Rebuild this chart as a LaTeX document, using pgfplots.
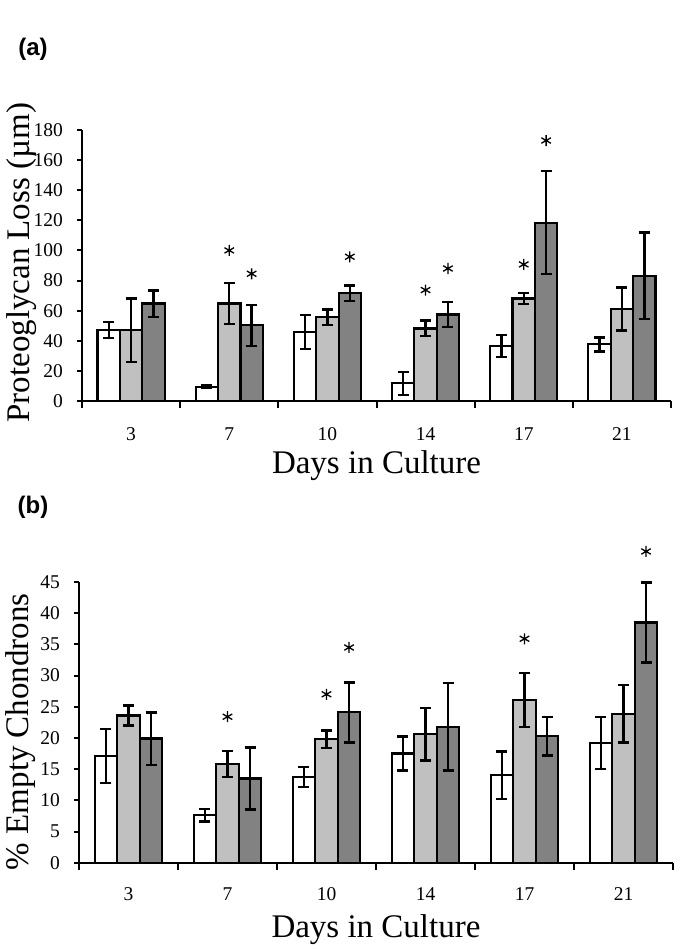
\documentclass[border=0pt]{standalone}
\usepackage{fontspec}
\setmainfont{Liberation Serif}
\newfontfamily\panelfont{Liberation Sans}
\usepackage{pgfplots}
\usepackage{pgfplotstable}
\pgfplotsset{compat=1.18}

\definecolor{lightbar}{HTML}{C0C0C0}
\definecolor{darkbar}{HTML}{828282}

\pgfplotstableread{
x  w    we   l    le   d     de
0  47.0 5.3  47.0 21.0 64.7  8.8
1  9.5  1.0  64.7 13.5 50.3  13.6
2  45.8 11.3 55.6 5.2  71.5  5.2
3  11.7 7.7  48.2 5.2  57.5  8.3
4  36.5 7.4  68.1 3.5  118.4 34.2
5  37.6 4.6  61.1 14.4 83.2  28.8
}\dataA

\pgfplotstableread{
x  w    we   l    le   d     de
0  17.1 4.3  23.6 1.6  19.9  4.2
1  7.6  1.0  15.8 2.1  13.5  5.0
2  13.7 1.6  19.8 1.4  24.1  4.8
3  17.5 2.7  20.6 4.2  21.8  7.0
4  14.0 3.8  26.1 4.3  20.3  3.1
5  19.2 4.2  23.9 4.6  38.5  6.4
}\dataB

\pgfplotsset{
  mybars/.style={
    scale only axis,
    clip=false,
    xmin=-0.5, xmax=5.5,
    ymin=0,
    axis x line*=bottom,
    axis y line*=left,
    axis line style={line width=2.2pt,-},
    xtick={0,...,5},
    xticklabels={3,7,10,14,17,21},
    major x tick style={draw=none},
    minor xtick={-0.5,0.5,1.5,2.5,3.5,4.5,5.5},
    minor x tick style={line width=2pt,black},
    minor tick length=7pt,
    major tick length=5pt,
    tick align=outside,
    ytick style={line width=2pt,black},
    ticklabel style={font=\fontsize{19.5}{22}\selectfont},
    /pgf/number format/assume math mode=true,
    yticklabel style={anchor=east,inner sep=0pt,xshift=-14pt},
    xticklabel style={anchor=base,inner sep=0pt},
    label style={font=\fontsize{33}{36}\selectfont},
    xlabel style={at={(axis description cs:0.5,0)},anchor=base,inner sep=0pt},
    ylabel style={anchor=center,inner sep=0pt},
  },
  anybar/.style={ybar,bar width=0.228,bar shift=0,draw=black,line width=2.2pt,
    error bars/.cd,y dir=both,y explicit,error bar style={line width=2.4pt,black},
    error mark options={rotate=90,mark size=5.5pt,line width=2.4pt,black}},
  stars/.style={only marks,mark=asterisk,mark size=5.5pt,mark options={line width=1.3pt,black}},
}

\begin{document}
\begin{tikzpicture}
\path (0pt,0pt) rectangle (685pt,949pt);
\node[font=\panelfont\bfseries\fontsize{24}{24}\selectfont] at (33pt,900pt) {(a)};
\node[font=\panelfont\bfseries\fontsize{24}{24}\selectfont] at (33pt,441.5pt) {(b)};

\begin{axis}[mybars,
  at={(82pt,548pt)}, anchor=south west,
  width=589pt, height=271pt,
  ymax=180, ytick={0,20,...,180},
  xticklabel style={yshift=-35pt},
  xlabel={Days in Culture},
  xlabel style={yshift=-73pt},
  ylabel={Proteoglycan Loss (µm)},
  ylabel style={at={(axis description cs:-0.1024,0.51)}},
]
\addplot[fill=white,anybar] table[x expr=\thisrow{x}-0.228,y=w,y error=we] {\dataA};
\addplot[fill=lightbar,anybar] table[x expr=\thisrow{x},y=l,y error=le] {\dataA};
\addplot[fill=darkbar,anybar] table[x expr=\thisrow{x}+0.228,y=d,y error=de] {\dataA};
\addplot[stars] coordinates {(1,100) (1.228,84.5) (2.228,95.8) (3,73.7) (3.228,88) (4,90.7) (4.228,173)};
\end{axis}

\begin{axis}[mybars,
  at={(79pt,86.3pt)}, anchor=south west,
  width=594pt, height=280.7pt,
  ymax=45, ytick={0,5,...,45},
  xticklabel style={yshift=-33pt},
  xlabel={Days in Culture},
  xlabel style={yshift=-75pt},
  ylabel={\% Empty Chondrons},
  ylabel style={at={(axis description cs:-0.098,0.467)}},
]
\addplot[fill=white,anybar] table[x expr=\thisrow{x}-0.228,y=w,y error=we] {\dataB};
\addplot[fill=lightbar,anybar] table[x expr=\thisrow{x},y=l,y error=le] {\dataB};
\addplot[fill=darkbar,anybar] table[x expr=\thisrow{x}+0.228,y=d,y error=de] {\dataB};
\addplot[stars] coordinates {(1,23.4) (2,27) (2.228,34.5) (4,35.9) (5.228,49.9)};
\end{axis}
\end{tikzpicture}
\end{document}
